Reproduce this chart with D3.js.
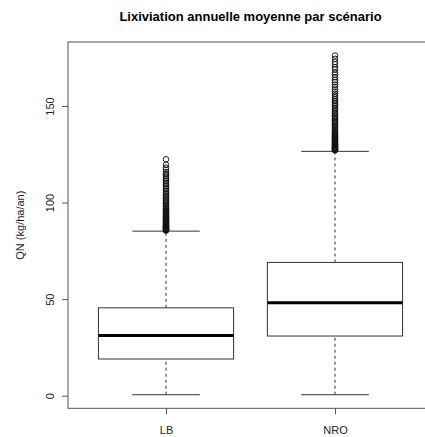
<!DOCTYPE html>
<html>
<head>
<meta charset="utf-8">
<script src="https://cdn.jsdelivr.net/npm/d3@7"></script>
<style>
  html, body { margin: 0; padding: 0; background: #fff; }
  svg { display: block; font-family: "Liberation Sans", Arial, Helvetica, sans-serif; }
</style>
</head>
<body>
<svg id="chart" width="425" height="437"></svg>
<script>
// ---- Data ----
const categories = ["LB", "NRO"];
const whiskerLow  = [0.5, 0.5];
const q1          = [19.0, 30.9];
const medians     = [31.2, 48.1];
const q3          = [45.5, 69.0];
const whiskerHigh = [85.2, 126.5];
const outliersLB = [85.5, 85.7, 85.9, 86.1, 86.3, 86.6, 86.8, 87.1, 87.3, 87.6, 87.9, 88.2, 88.4, 88.8,
  89.1, 89.4, 89.7, 90.1, 90.4, 90.8, 91.2, 91.5, 91.9, 92.3, 92.8, 93.2, 93.6, 94.1, 94.5, 95.0,
  95.5, 96.0, 96.6, 97.1, 97.7, 98.2, 98.9, 99.5, 100.1, 100.8, 101.5, 102.2, 102.9, 103.7, 104.4,
  105.2, 106.0, 106.9, 107.7, 108.6, 109.4, 110.3, 111.1, 112.0, 112.8, 113.9, 114.7, 115.8, 117.0,
  118.1, 119.6, 122.4];
const outliersNRO = [127.0, 127.2, 127.4, 127.6, 127.9, 128.1, 128.4, 128.6, 128.9, 129.2, 129.5, 129.8,
  130.1, 130.4, 130.8, 131.1, 131.5, 131.9, 132.3, 132.7, 133.1, 133.5, 134.0, 134.4, 134.9, 135.4,
  135.9, 136.4, 136.9, 137.5, 138.0, 138.6, 139.2, 139.8, 140.4, 141.0, 141.7, 142.3, 143.0, 143.7,
  144.4, 145.1, 145.9, 146.6, 147.4, 148.2, 149.0, 149.9, 150.7, 151.6, 152.5, 153.4, 154.4, 155.3,
  156.3, 157.4, 158.5, 159.8, 161.0, 162.3, 163.4, 164.9, 166.2, 167.3, 168.9, 170.1, 171.6, 172.8,
  174.4, 176.1];
const outliers = [outliersLB, outliersNRO];
const yTicks = [0, 50, 100, 150];
const titleText = "Lixiviation annuelle moyenne par scénario";
const yLabel = "QN (kg/ha/an)";

// ---- Layout ----
const plot = { left: 68, right: 433, top: 42, bottom: 408.3 };
const svg = d3.select("#chart");

const allVals = whiskerLow.concat(whiskerHigh, outliersLB, outliersNRO);
const dMin = d3.min(allVals), dMax = d3.max(allVals);
const pad = (dMax - dMin) * 0.04;
const y = d3.scaleLinear().domain([dMin - pad, dMax + pad]).range([plot.bottom, plot.top]);
const x = d3.scaleLinear().domain([0.42, 2.58]).range([plot.left, plot.right]);
const bw = x(1.4) - x(1); // half box width (0.4 units)
const capHalf = bw / 2;

// Title
svg.append("text")
  .attr("x", (plot.left + plot.right) / 2).attr("y", 21)
  .attr("text-anchor", "middle").attr("font-weight", "bold").attr("font-size", 13)
  .attr("fill", "#000").text(titleText);

// Frame
svg.append("rect")
  .attr("x", plot.left).attr("y", plot.top)
  .attr("width", plot.right - plot.left).attr("height", plot.bottom - plot.top)
  .attr("fill", "none").attr("stroke", "#555").attr("stroke-width", 1);

// Y axis
const yAxis = svg.append("g").attr("transform", `translate(${plot.left},0)`)
  .call(d3.axisLeft(y).tickValues(yTicks).tickSize(6).tickPadding(0).tickFormat(d3.format("d")));
yAxis.select(".domain").remove();
yAxis.selectAll(".tick line").attr("stroke", "#555");
yAxis.selectAll(".tick text")
  .attr("font-size", 11).attr("font-family", "Liberation Sans, Arial, sans-serif").attr("fill", "#222")
  .attr("x", 0).attr("dy", null)
  .attr("text-anchor", "middle")
  .attr("transform", "translate(-18,0) rotate(-90)")
  .attr("dominant-baseline", "central");

// Y label
svg.append("text")
  .attr("transform", `translate(20,${(plot.top + plot.bottom) / 2}) rotate(-90)`)
  .attr("text-anchor", "middle").attr("dominant-baseline", "central")
  .attr("font-size", 11).attr("fill", "#222").text(yLabel);

// X axis
const xAxis = svg.append("g").attr("transform", `translate(0,${plot.bottom})`)
  .call(d3.axisBottom(x).tickValues([1, 2]).tickSize(6).tickPadding(12)
    .tickFormat((d, i) => categories[i]));
xAxis.select(".domain").remove();
xAxis.selectAll(".tick line").attr("stroke", "#555");
xAxis.selectAll(".tick text").attr("font-size", 11).attr("fill", "#222")
  .attr("font-family", "Liberation Sans, Arial, sans-serif");

// Boxes
const g = svg.append("g");
categories.forEach((c, i) => {
  const cx = x(i + 1);
  // whiskers (dashed)
  g.append("line").attr("x1", cx).attr("x2", cx).attr("y1", y(whiskerLow[i])).attr("y2", y(q1[i]))
    .attr("stroke", "#333").attr("stroke-dasharray", "3,3");
  g.append("line").attr("x1", cx).attr("x2", cx).attr("y1", y(q3[i])).attr("y2", y(whiskerHigh[i]))
    .attr("stroke", "#333").attr("stroke-dasharray", "3,3");
  // caps
  [whiskerLow[i], whiskerHigh[i]].forEach(v => {
    g.append("line").attr("x1", cx - capHalf).attr("x2", cx + capHalf)
      .attr("y1", y(v)).attr("y2", y(v)).attr("stroke", "#333");
  });
  // box
  g.append("rect").attr("x", cx - bw).attr("width", 2 * bw)
    .attr("y", y(q3[i])).attr("height", y(q1[i]) - y(q3[i]))
    .attr("fill", "none").attr("stroke", "#333");
  // median
  g.append("line").attr("x1", cx - bw).attr("x2", cx + bw)
    .attr("y1", y(medians[i])).attr("y2", y(medians[i]))
    .attr("stroke", "#000").attr("stroke-width", 3);
  // outliers
  g.selectAll(null).data(outliers[i]).enter().append("circle")
    .attr("cx", cx).attr("cy", d => y(d)).attr("r", 2.8)
    .attr("fill", "none").attr("stroke", "#111").attr("stroke-width", 0.9);
});
</script>
</body>
</html>
